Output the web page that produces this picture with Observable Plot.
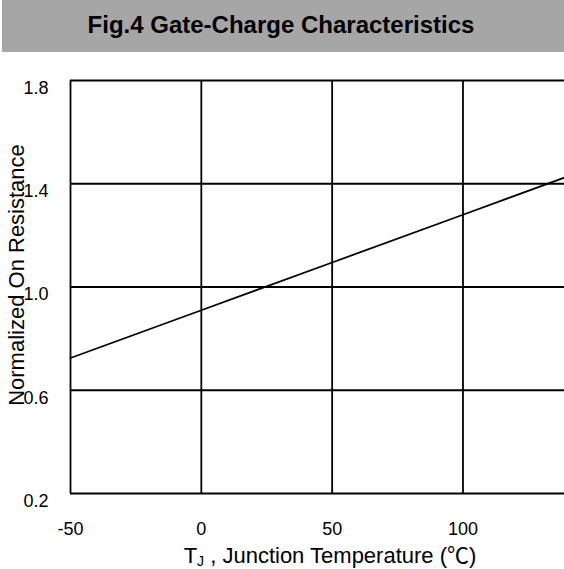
<!DOCTYPE html>
<html>
<head>
<meta charset="utf-8">
<script src="https://cdn.jsdelivr.net/npm/d3@7"></script>
<script src="https://cdn.jsdelivr.net/npm/@observablehq/plot@0.6"></script>
<style>
  html, body { margin: 0; padding: 0; background: white; }
  #title {
    margin-left: 2px; height: 52px; background: #a6a6a6;
    font: bold 24px "Liberation Sans", Arial, sans-serif; color: #000;
    display: flex; align-items: center; justify-content: center;
    padding-right: 4px; box-sizing: border-box; padding-bottom: 3px;
  }
  #chart svg { display: block; }
</style>
</head>
<body>
<div id="title">Fig.4 Gate-Charge Characteristics</div>
<div id="chart"></div>
<script>
// Data
const xTicks = [-50, 0, 50, 100];
const yTicks = [0.2, 0.6, 1.0, 1.4, 1.8];
const tempC = [-50, 0, 50, 100, 138.8];
const rdsNorm = [0.725, 0.91, 1.095, 1.28, 1.424];

const lineData = tempC.map((t, i) => ({t, r: rdsNorm[i]}));
const stroke = {stroke: "black", strokeOpacity: 1, strokeWidth: 1.8};

const chart = Plot.plot({
  width: 564, height: 517,
  marginTop: 28, marginBottom: 76, marginLeft: 70, marginRight: 0,
  style: {fontFamily: "'Liberation Sans', Arial, sans-serif", fontSize: "18px", color: "black", background: "white"},
  x: {domain: [-50, 138.8], label: null},
  y: {domain: [0.2, 1.8], label: null},
  marks: [
    Plot.gridX(xTicks.filter(d => d > -50), stroke),
    Plot.gridY(yTicks.filter(d => d > 0.2), stroke),
    Plot.ruleX([-50], stroke),
    Plot.ruleY([0.2], stroke),
    Plot.axisX(xTicks, {tickSize: 0, tickPadding: 29, fontSize: 18, tickFormat: d => String(d), label: null}),
    Plot.axisY(yTicks, {tickSize: 0, tickPadding: 22, fontSize: 18, dy: 7.5, tickFormat: d => d.toFixed(1), label: null}),
    Plot.line(lineData, {x: "t", y: "r", stroke: "black", strokeWidth: 1.8})
  ]
});

const svg = d3.select(chart);
svg.append("text")
  .attr("transform", "translate(16,223) rotate(-90)")
  .attr("text-anchor", "middle")
  .attr("dominant-baseline", "central")
  .attr("font-size", 22)
  .attr("fill", "black")
  .attr("font-family", "'Liberation Sans', Arial, sans-serif")
  .text("Normalized On Resistance");

const xt = svg.append("text")
  .attr("x", 330).attr("y", 511)
  .attr("text-anchor", "middle")
  .attr("font-size", 22)
  .attr("fill", "black")
  .attr("font-family", "'Liberation Sans', Arial, 'Noto Sans CJK SC', sans-serif");
xt.append("tspan").text("T");
xt.append("tspan").attr("font-size", 14).attr("dy", 3).text("J");
xt.append("tspan").attr("dy", -3).text(" , Junction Temperature (");
xt.append("tspan").attr("font-family", "'Noto Sans CJK SC', sans-serif").text("℃");
xt.append("tspan").text(")");

document.getElementById("chart").appendChild(chart);
</script>
</body>
</html>
